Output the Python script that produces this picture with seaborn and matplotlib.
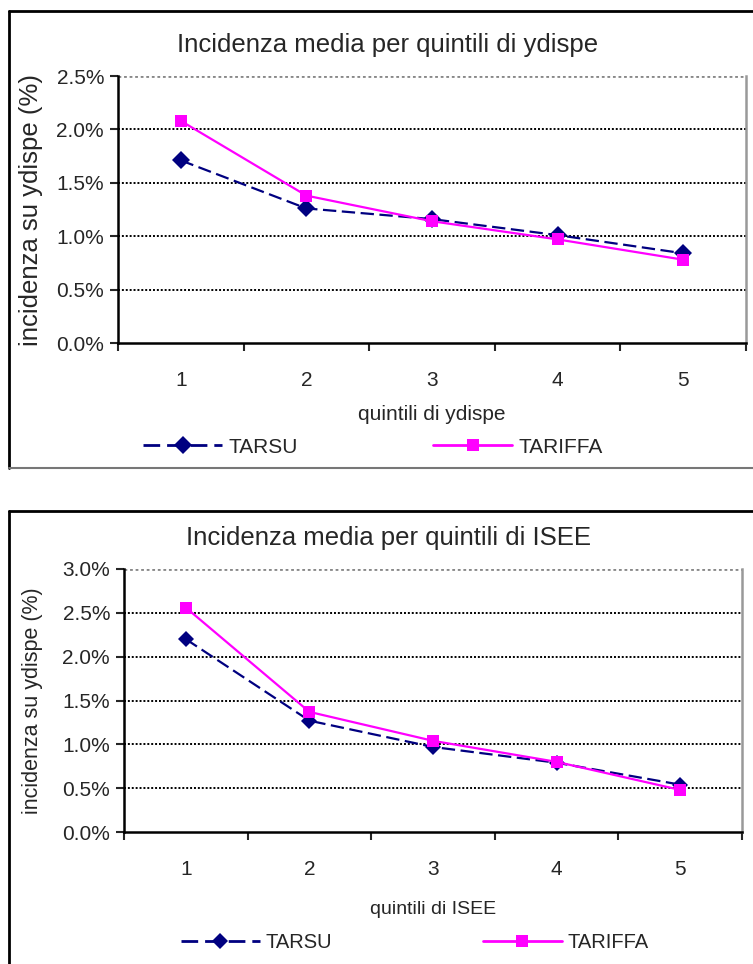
import matplotlib
matplotlib.use("Agg")
import matplotlib.pyplot as plt
from matplotlib import ticker
from matplotlib.lines import Line2D
import pandas as pd
import seaborn as sns

sns.set_theme(style="white")
plt.rcParams["font.family"] = ["Liberation Sans", "DejaVu Sans"]

# dati (valori in %)
quintili = [1, 2, 3, 4, 5]
serie = ["TARSU", "TARIFFA"]
tarsu_ydispe = [1.71, 1.26, 1.16, 1.01, 0.84]
tariffa_ydispe = [2.08, 1.38, 1.14, 0.97, 0.78]
tarsu_isee = [2.20, 1.27, 0.97, 0.79, 0.54]
tariffa_isee = [2.56, 1.37, 1.04, 0.80, 0.48]

W, H = 753, 964
colori = {"TARSU": "#000080", "TARIFFA": "#FF00FF"}
marcatori = {"TARSU": "D", "TARIFFA": "s"}
tratti = {"TARSU": (6, 2.5), "TARIFFA": ""}


def fx(x):
    return x / W


def fy(y):
    return 1 - y / H


def make_df(a, b):
    return pd.concat([
        pd.DataFrame({"quintile": quintili, "incidenza": a, "serie": "TARSU"}),
        pd.DataFrame({"quintile": quintili, "incidenza": b, "serie": "TARIFFA"}),
    ])


def pannello(fig, box, dati, ymax, titolo, xlab, p):
    l, r, t, b = box
    ax = fig.add_axes([fx(l), fy(b), fx(r - l), (b - t) / H])
    sns.lineplot(data=dati, x="quintile", y="incidenza", hue="serie", style="serie",
                 palette=colori, markers=marcatori, dashes=tratti, hue_order=serie,
                 style_order=serie, linewidth=1.6, markersize=p["ms"],
                 markeredgewidth=0, ax=ax)
    ax.set_xlim(0.5, 5.5)
    ax.set_ylim(0, ymax)
    ax.set_yticks([v / 2 for v in range(int(ymax * 2) + 1)])
    ax.yaxis.set_major_formatter(ticker.FuncFormatter(lambda v, _: f"{v:.1f}%"))
    ax.set_xticks(quintili)
    ax.set_xticks([0.5 + i for i in range(6)], minor=True)
    ax.tick_params(axis="x", which="major", length=0, pad=p["xpad"], labelsize=p["fs"])
    ax.tick_params(axis="x", which="minor", length=6, width=1.5, direction="out", bottom=True)
    ax.tick_params(axis="y", length=6, width=1.5, direction="out", left=True, pad=4,
                   labelsize=p["fs"])
    for v in ax.get_yticks()[1:-1]:
        ax.axhline(v, color="black", lw=1.4, ls=(0, (1, 1)), zorder=0)
    ax.axhline(ymax, color="#888888", lw=2, ls=(0, (1, 1)), zorder=0)
    for s in ["left", "bottom"]:
        ax.spines[s].set_color("black")
        ax.spines[s].set_linewidth(1.8)
    ax.spines["top"].set_visible(False)
    ax.spines["right"].set_color("#999999")
    ax.spines["right"].set_linewidth(1.8)
    ax.set_xlabel("")
    ax.set_ylabel("")
    ax.get_legend().remove()

    fig.text(fx(p["tx"]), fy(p["ty"]), titolo, ha="center", va="center", fontsize=p["tfs"])
    fig.text(fx(p["lx"]), fy((t + b) / 2), "incidenza su ydispe (%)", rotation=90,
             ha="center", va="center", fontsize=p["yfs"])
    fig.text(fx((l + r) / 2), fy(p["xy"]), xlab, ha="center", va="center", fontsize=p["xfs"])

    maniglie = [Line2D([], [], color=colori[s], marker=marcatori[s], ls="--" if s == "TARSU" else "-",
                       dashes=tratti[s] if s == "TARSU" else (None, None), lw=2,
                       ms=p["ms"], markeredgewidth=0) for s in serie]
    fig.legend(maniglie, serie, loc="center", bbox_to_anchor=(fx(p["gx"]), fy(p["gy"])),
               ncol=2, frameon=False, fontsize=p["gfs"], handlelength=p["hl"],
               handletextpad=0.3, columnspacing=p["cs"])
    return ax


fig = plt.figure(figsize=(W / 100, H / 100), dpi=100)

# cornici
fig.add_artist(Line2D([fx(9), fx(760)], [fy(11), fy(11)], color="black", lw=2))
fig.add_artist(Line2D([fx(9), fx(9)], [fy(11), fy(468)], color="black", lw=2))
fig.add_artist(Line2D([fx(9), fx(760)], [fy(468), fy(468)], color="#777777", lw=1.5))
fig.add_artist(Line2D([fx(9), fx(760)], [fy(511), fy(511)], color="black", lw=2))
fig.add_artist(Line2D([fx(9), fx(9)], [fy(511), fy(970)], color="black", lw=2))

pannello(fig, (118, 746, 76, 343), make_df(tarsu_ydispe, tariffa_ydispe), 2.5,
         "Incidenza media per quintili di ydispe", "quintili di ydispe",
         dict(ms=9, fs=15, xpad=20, tx=388, ty=45, tfs=18.5, lx=31, yfs=18.5,
              xy=414, xfs=15, gx=373, gy=447, gfs=15, hl=3.8, cs=6.5))

pannello(fig, (124, 742, 569, 832), make_df(tarsu_isee, tariffa_isee), 3.0,
         "Incidenza media per quintili di ISEE", "quintili di ISEE",
         dict(ms=8.5, fs=15, xpad=20, tx=388, ty=538, tfs=18.5, lx=33, yfs=15.5,
              xy=909, xfs=14, gx=415, gy=943, gfs=14.5, hl=3.9, cs=7.5))

fig.savefig("out.png", dpi=100)
